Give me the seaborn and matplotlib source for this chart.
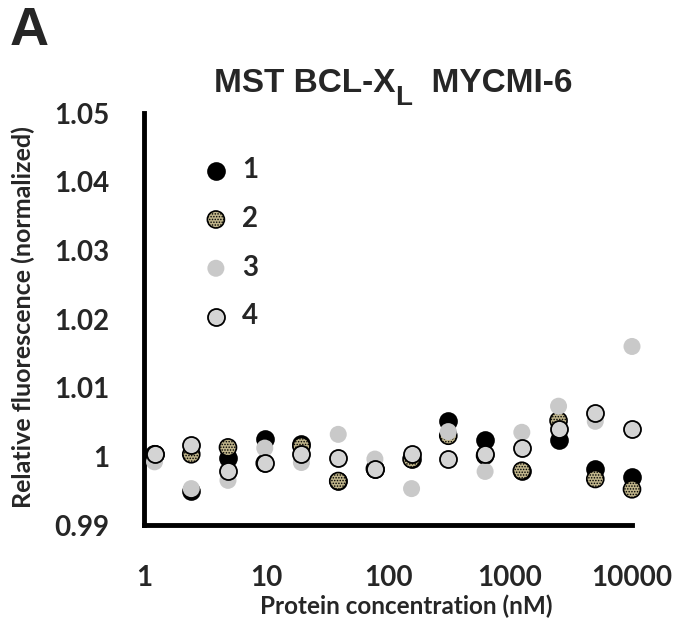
import matplotlib
matplotlib.use("Agg")
import matplotlib.pyplot as plt
import seaborn as sns
import numpy as np
import pandas as pd

conc = [1.22, 2.44, 4.88, 9.77, 19.5, 39.1, 78.1, 156, 312, 625, 1250, 2500, 5000, 10000]
s1 = [1.0003, 0.9950, 0.9997, 1.0025, 1.0018, 0.9964, 0.9982, 0.9996, 1.0052, 1.0024, 0.9979, 1.0024, 0.9981, 0.9970]
s2 = [1.0003, 1.0003, 1.0013, 0.9990, 1.0015, 0.9964, 0.9982, 0.9996, 1.0030, 1.0001, 0.9979, 1.0052, 0.9967, 0.9952]
s3 = [0.9992, 0.9953, 0.9965, 1.0012, 0.9991, 1.0032, 0.9996, 0.9953, 1.0036, 0.9978, 1.0035, 1.0073, 1.0051, 1.0160]
s4 = [1.0003, 1.0016, 0.9978, 0.9990, 1.0003, 0.9997, 0.9982, 1.0004, 0.9996, 1.0003, 1.0012, 1.0040, 1.0063, 1.0040]
series_names = ["1", "2", "3", "4"]
yticks = [0.99, 1.00, 1.01, 1.02, 1.03, 1.04, 1.05]
ytick_labels = ["0.99", "1", "1.01", "1.02", "1.03", "1.04", "1.05"]
xticks = [1, 10, 100, 1000, 10000]
xtick_labels = ["1", "10", "100", "1000", "10000"]

sns.set_style("white")
plt.rcParams["font.family"] = ["Lato", "DejaVu Sans"]
plt.rcParams["hatch.linewidth"] = 0.7

fig = plt.figure(figsize=(6.75, 6.23), dpi=100)
ax = fig.add_axes([144/675, 1-525/623, 488/675, 412/623])

styles = [
    dict(facecolor="black", edgecolor="black", linewidth=1.2),
    dict(facecolor="#bfb48a", edgecolor="black", linewidth=1.2, hatch="......"),
    dict(facecolor="#c9c9c9", edgecolor="none", linewidth=0),
    dict(facecolor="#d4d4d4", edgecolor="black", linewidth=1.3),
]
all_vals = [s1, s2, s3, s4]
for name, vals, st in zip(series_names, all_vals, styles):
    df = pd.DataFrame({"conc": conc, "val": vals})
    sns.scatterplot(data=df, x="conc", y="val", ax=ax, s=150, label=name,
                    clip_on=False, zorder=3, **st)

ax.set_xscale("log")
ax.set_xlim(1, 10000)
ax.set_ylim(0.99, 1.05)
ax.set_xticks(xticks)
ax.set_xticklabels(xtick_labels)
ax.set_yticks(yticks)
ax.set_yticklabels(ytick_labels)
ax.xaxis.set_minor_locator(matplotlib.ticker.NullLocator())
for sp in ["top", "right"]:
    ax.spines[sp].set_visible(False)
for sp in ["left", "bottom"]:
    ax.spines[sp].set_linewidth(3.5)
    ax.spines[sp].set_color("black")
ax.tick_params(axis="both", which="major", direction="out", length=11, width=3,
               color="black", labelsize=20)
ax.tick_params(axis="y", pad=14)
ax.tick_params(axis="x", pad=18)
for lab in ax.get_xticklabels() + ax.get_yticklabels():
    lab.set_fontweight("bold")

ax.set_xlabel("Protein concentration (nM)", fontsize=17.5, fontweight="bold")
ax.set_ylabel("Relative fluorescence (normalized)", fontsize=18, fontweight="bold")
ax.xaxis.set_label_coords((406-144)/488, (525-606)/412)
ax.xaxis.label.set_va("center")
ax.yaxis.set_label_coords((23-144)/488, (525-317)/412)
ax.yaxis.label.set_va("center")

leg = ax.legend(loc="upper left", bbox_to_anchor=((202-144)/488, (525-157)/412),
                frameon=False, prop=dict(family="Lato", weight="bold", size=20),
                labelspacing=0.82, handletextpad=0.43, handlelength=1.0,
                borderpad=0, borderaxespad=0, markerscale=1.0)

# title with a large subscript L
title_font = dict(fontsize=24, fontweight="bold",
                  family=["Liberation Sans", "DejaVu Sans"])
fig.canvas.draw()
r = fig.canvas.get_renderer()
y_base = 1 - 92/623
t1 = fig.text(0, y_base, "MST BCL-X", ha="left", va="baseline", **title_font)
t2 = fig.text(0, y_base - 13/623, "L", ha="left", va="baseline",
              fontsize=20, fontweight="bold", family=["Liberation Sans", "DejaVu Sans"])
t3 = fig.text(0, y_base, "  MYCMI-6", ha="left", va="baseline", **title_font)
w1 = t1.get_window_extent(r).width
w2 = t2.get_window_extent(r).width
w3 = t3.get_window_extent(r).width
total = w1 + w2 + w3
x0 = 393 - total / 2
t1.set_x(x0 / 675)
t2.set_x((x0 + w1) / 675)
t3.set_x((x0 + w1 + w2) / 675)

fig.text(10/675, 1-31/623, "A", ha="left", va="center", fontsize=39,
         fontweight="bold", family=["Liberation Sans", "DejaVu Sans"])

fig.savefig("out.png", dpi=100)
